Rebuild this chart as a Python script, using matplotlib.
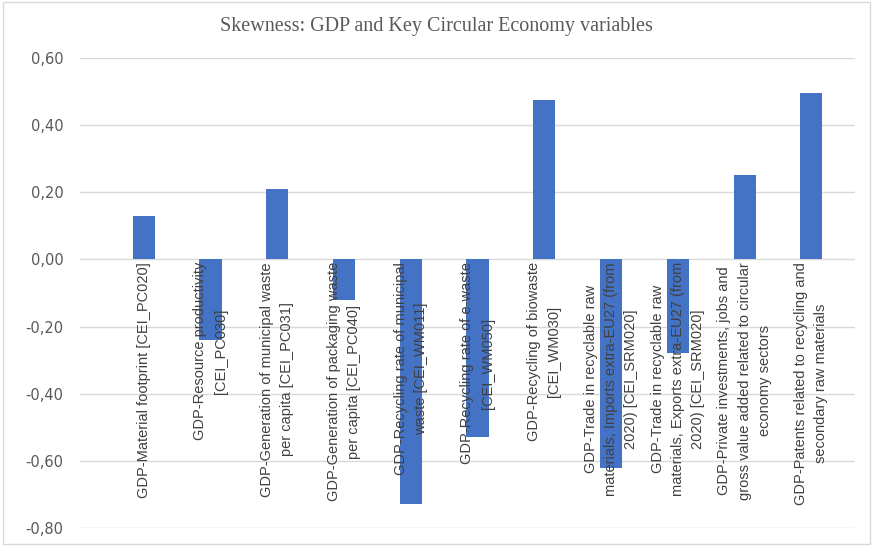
import matplotlib.pyplot as plt
from matplotlib.ticker import FuncFormatter
from matplotlib.patches import Rectangle

labels = [
    "GDP-Material footprint [CEI_PC020]",
    "GDP-Resource productivity\n[CEI_PC030]",
    "GDP-Generation of municipal waste\nper capita [CEI_PC031]",
    "GDP-Generation of packaging waste\nper capita [CEI_PC040]",
    "GDP-Recycling rate of municipal\nwaste [CEI_WM011]",
    "GDP-Recycling rate of e-waste\n[CEI_WM050]",
    "GDP-Recycling of biowaste\n[CEI_WM030]",
    "GDP-Trade in recyclable raw\nmaterials, Imports extra-EU27 (from\n2020) [CEI_SRM020]",
    "GDP-Trade in recyclable raw\nmaterials, Exports extra-EU27 (from\n2020) [CEI_SRM020]",
    "GDP-Private investments, jobs and\ngross value added related to circular\neconomy sectors",
    "GDP-Patents related to recycling and\nsecondary raw materials",
]
skew = [0.128, -0.24, 0.21, -0.12, -0.73, -0.53, 0.475, -0.62, -0.28, 0.25, 0.495]
yticks = [-0.8, -0.6, -0.4, -0.2, 0.0, 0.2, 0.4, 0.6]

fig = plt.figure(figsize=(8.73, 5.46), dpi=100)
ax = fig.add_axes([0.092, 0.033, 0.887, 0.861])

x = list(range(len(skew)))
ax.bar(x, skew, width=0.33, color='#4472C4', zorder=2)

for i, lab in enumerate(labels):
    ax.text(i, -0.008, lab, rotation=90, ha='center', va='top',
            multialignment='center', fontsize=10.5, color='#404040',
            family='Liberation Sans', zorder=3, linespacing=1.55)

ax.set_ylim(-0.8, 0.6)
ax.set_xlim(-0.95, len(skew) - 0.35)
ax.set_yticks(yticks)
ax.yaxis.set_major_formatter(FuncFormatter(lambda v, p: ('%.2f' % v).replace('.', ',').replace('-0,00', '0,00')))
ax.tick_params(axis='y', length=0, labelsize=10.5, labelcolor='#595959', pad=12)
ax.set_xticks([])
ax.grid(axis='y', color='#d9d9d9', linewidth=1, zorder=0)
for s in ax.spines.values():
    s.set_visible(False)

fig.text(0.5, 0.952, 'Skewness: GDP and Key Circular Economy variables',
         ha='center', va='center', fontsize=14.5, color='#595959', family='Liberation Serif')

fig.patches.append(Rectangle((0.004, 0.004), 0.992, 0.992, transform=fig.transFigure,
                             fill=False, edgecolor='#d9d9d9', linewidth=1))

fig.savefig('out.png', dpi=100)
